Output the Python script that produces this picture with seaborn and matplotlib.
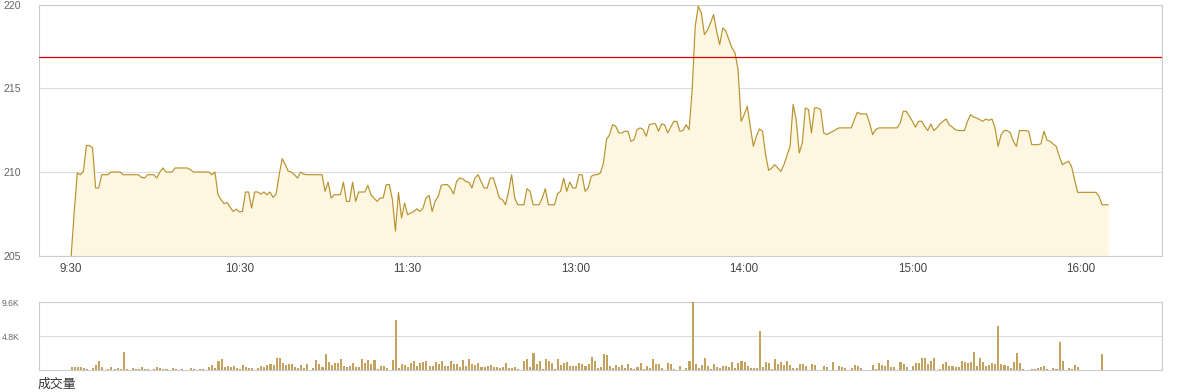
import numpy as np
import pandas as pd
import matplotlib
matplotlib.use("Agg")
import matplotlib.pyplot as plt
import seaborn as sns

# ---------------- data ----------------
price = [
    205.0, 207.6, 209.96, 209.86, 210.06, 211.6, 211.6, 211.45, 209.07, 209.07,
    209.86, 209.86, 209.86, 210.02, 210.02, 210.02, 210.02, 209.86, 209.86, 209.86,
    209.86, 209.86, 209.86, 209.7, 209.66, 209.86, 209.86, 209.86, 209.66, 210.02,
    210.26, 210.02, 210.02, 210.02, 210.26, 210.26, 210.26, 210.26, 210.26, 210.16,
    210.02, 210.02, 210.02, 210.02, 210.02, 210.02, 209.86, 210.02, 208.67, 208.37,
    208.13, 208.21, 207.91, 207.67, 207.81, 207.65, 207.67, 208.83, 208.83, 207.87,
    208.83, 208.83, 208.7, 208.83, 208.67, 208.83, 208.51, 208.7, 209.86, 210.82,
    210.46, 210.06, 210.02, 209.86, 209.66, 210.02, 209.9, 209.86, 209.86, 209.86,
    209.86, 209.86, 209.86, 208.87, 209.42, 208.47, 208.67, 208.67, 208.67, 209.42,
    208.27, 208.27, 209.42, 208.27, 208.83, 208.83, 208.83, 209.23, 208.67, 208.47,
    208.27, 208.47, 208.47, 209.27, 209.27, 208.4, 206.5, 208.8, 207.28, 208.17,
    207.48, 207.58, 207.67, 207.83, 207.67, 207.87, 208.47, 208.63, 207.67, 208.27,
    208.57, 209.23, 209.27, 209.27, 209.07, 208.71, 209.46, 209.66, 209.62, 209.46,
    209.42, 209.07, 209.66, 209.86, 209.46, 209.07, 209.07, 209.66, 209.66, 209.07,
    208.47, 208.37, 208.07, 208.87, 209.86, 208.47, 208.07, 208.07, 208.07, 209.03,
    208.87, 208.07, 208.07, 208.07, 208.47, 209.03, 208.07, 208.07, 208.07, 208.73,
    208.87, 209.66, 208.87, 209.42, 209.07, 209.07, 209.86, 209.86, 208.87, 209.07,
    209.76, 209.86, 209.86, 209.96, 210.56, 211.95, 212.25, 212.84, 212.75, 212.35,
    212.35, 212.45, 212.45, 211.85, 211.95, 212.55, 212.65, 212.55, 212.15, 212.84,
    212.9, 212.9, 212.45, 212.88, 212.84, 212.35, 212.7, 213.04, 213.04, 212.45,
    212.49, 212.84, 212.55, 214.93, 218.71, 219.9, 219.5, 218.21, 218.47, 218.9,
    219.4, 218.41, 217.61, 218.61, 218.41, 217.91, 217.42, 217.12, 216.12, 213.04,
    213.44, 213.94, 212.75, 211.55, 212.15, 212.59, 212.45, 211.06, 210.12, 210.26,
    210.46, 210.26, 210.06, 210.46, 211.0, 211.55, 214.04, 213.14, 211.15, 211.75,
    213.84, 213.74, 212.35, 213.84, 213.84, 213.74, 212.35, 212.25, 212.35, 212.45,
    212.55, 212.65, 212.65, 212.65, 212.65, 212.65, 213.14, 213.58, 213.48, 213.48,
    213.48, 212.94, 212.25, 212.55, 212.65, 212.65, 212.65, 212.65, 212.65, 212.65,
    212.65, 212.94, 213.64, 213.64, 213.34, 213.04, 212.69, 213.04, 213.04, 212.75,
    212.49, 212.88, 212.49, 212.65, 212.88, 213.04, 213.18, 212.84, 212.7, 212.55,
    212.49, 212.49, 212.49, 213.04, 213.44, 213.3, 213.24, 213.14, 213.04, 213.18,
    213.1, 213.18, 212.65, 211.55, 212.25, 212.49, 212.49, 212.35, 211.85, 211.55,
    212.49, 212.49, 212.49, 212.45, 211.65, 211.65, 211.65, 211.7, 212.45, 211.91,
    211.85, 211.69, 211.55, 210.96, 210.46, 210.56, 210.66, 210.36, 209.56, 208.81,
    208.81, 208.81, 208.81, 208.81, 208.81, 208.81, 208.57, 208.07, 208.07, 208.07,
]

volume_k = [
    0.4, 0.4, 0.4, 0.4, 0.3, 0.15, 0, 0.3, 0.7, 1.3,
    0.4, 0, 0.15, 0.4, 0.15, 0.3, 0.15, 2.5, 0.15, 0,
    0.3, 0.15, 0.15, 0.4, 0.15, 0.15, 0, 0.15, 0.4, 0.3,
    0.15, 0.15, 0, 0.3, 0.15, 0, 0.15, 0, 0, 0.3,
    0.15, 0, 0.15, 0.15, 0, 0.4, 0.7, 0.3, 1.3, 1.55,
    0.4, 0.55, 0.4, 0.55, 0.3, 0.15, 0.7, 0.4, 0.3, 0.3,
    0, 0.3, 0.55, 0.4, 0.7, 0.85, 0.7, 1.7, 1.7, 1.0,
    0.7, 0.85, 0.85, 0.4, 0.3, 0.7, 0.3, 0.85, 0, 0.3,
    1.4, 0.85, 0.4, 2.25, 1.1, 0.7, 1.0, 1.0, 1.55, 0.55,
    0.4, 0.55, 1.0, 0.4, 0.4, 1.55, 1.0, 1.4, 0.85, 1.4,
    0.15, 0.55, 0.55, 0.3, 0, 1.4, 7.05, 0.3, 0.85, 0.7,
    0.4, 1.0, 1.3, 0.55, 1.0, 1.1, 1.3, 0.55, 0.55, 1.1,
    0.85, 1.3, 0.55, 0.55, 1.3, 0.85, 0.85, 0.4, 1.4, 0.55,
    1.55, 0.85, 0.7, 1.0, 0.4, 0.4, 0.55, 0.7, 0.4, 0.4,
    0.3, 0.4, 1.0, 0.3, 0.3, 0.4, 0.15, 0, 1.3, 1.55,
    0.4, 2.4, 0.85, 1.3, 0.15, 1.55, 1.3, 1.0, 0.15, 1.55,
    0.7, 1.0, 1.1, 0.55, 0.55, 0.55, 1.0, 0.85, 0.55, 0.85,
    1.85, 1.3, 0.3, 0.4, 2.25, 2.1, 0.55, 0.3, 0.7, 0.4,
    0.7, 0.3, 0.85, 0.3, 0.15, 0.4, 1.0, 0.15, 0.55, 0.3,
    1.55, 0.85, 0.85, 0.3, 0, 1.0, 0.85, 0.15, 0, 0.55,
    0, 0.3, 1.3, 9.6, 0.85, 0.3, 0.7, 1.7, 0.55, 0.15,
    0.85, 0.4, 0.3, 0.55, 0.55, 0.4, 1.1, 0.3, 1.0, 1.3,
    1.1, 0.55, 0.3, 0.3, 0.3, 5.5, 0.4, 1.1, 1.0, 0.15,
    1.55, 0.85, 1.1, 0.7, 1.3, 0.7, 0.3, 0.3, 0.85, 0.85,
    0.55, 0, 0.85, 0.7, 0, 0, 0.55, 0.4, 0, 1.1,
    0, 0.55, 0.4, 0.3, 0, 0.3, 0.7, 0.55, 0.3, 0,
    0, 0, 0.7, 0.15, 1.0, 0.7, 0.55, 1.4, 0.4, 0.4,
    0, 1.1, 0.85, 0.4, 0, 0.55, 1.0, 1.0, 1.7, 1.7,
    0.85, 1.3, 1.7, 0, 0.15, 0.85, 1.1, 0.55, 0.55, 0.4,
    0.4, 1.3, 1.1, 1.0, 1.1, 2.5, 0.55, 1.7, 1.1, 0.55,
    0.7, 1.0, 0.85, 6.2, 0.85, 0.7, 0.55, 0.3, 1.1, 2.4,
    1.0, 0.15, 0, 0, 0.15, 0.15, 0.3, 0.4, 0.55, 0.15,
    0, 0.3, 0.15, 3.95, 1.3, 0, 0.3, 0.15, 0.7, 0.4,
    0, 0, 0, 0, 0, 0, 0, 2.25, 0, 0,
]

tick_index = [0, 55, 110, 165, 220, 275, 330]
tick_labels = ["9:30", "10:30", "11:30", "13:00", "14:00", "15:00", "16:00"]
price_ticks = [205, 210, 215, 220]
volume_ticks_k = [4.8, 9.6]
volume_tick_labels = ["4.8K", "9.6K"]
prev_close = 216.88
volume_title = "成交量"

# ---------------- styling ----------------
sns.set_theme(style="white")
plt.rcParams["font.family"] = ["Liberation Sans", "Noto Sans CJK SC", "DejaVu Sans"]

LINE = "#b8922b"
FILL = "#fdf6e1"
BAR = "#c2a25e"
GRID = "#dcdcdc"
SPINE = "#cccccc"

df = pd.DataFrame({
    "idx": np.arange(len(price)),
    "price": price,
    "vol": np.array(volume_k) * 1000.0,
})

fig = plt.figure(figsize=(11.8, 3.92), dpi=100)
ax = fig.add_axes([0.0328, 0.3462, 0.952, 0.6423])
ax2 = fig.add_axes([0.0333, 0.0561, 0.9517, 0.1727])

xlim = (-10.6, 356.6)

# price panel
ax.fill_between(df["idx"], df["price"], 205, color=FILL, lw=0, zorder=1)
sns.lineplot(data=df, x="idx", y="price", ax=ax, color=LINE, lw=0.85, zorder=3)
ax.axhline(prev_close, color="#d40000", lw=0.9, zorder=4)
ax.set_ylim(205, 220)
ax.set_xlim(*xlim)
ax.set_yticks(price_ticks)
ax.set_yticklabels([str(t) for t in price_ticks])
ax.set_xticks(tick_index)
ax.set_xticklabels(tick_labels)
ax.grid(axis="y", color=GRID, lw=0.8)
ax.grid(axis="x", visible=False)
ax.set_axisbelow(True)
ax.set_xlabel("")
ax.set_ylabel("")
ax.tick_params(axis="y", length=0, pad=25.7, labelsize=7.6, labelcolor="#666666")
ax.tick_params(axis="x", length=0, pad=5, labelsize=8.4, labelcolor="#444444")
for lbl in ax.get_yticklabels():
    lbl.set_horizontalalignment("left")
for s in ax.spines.values():
    s.set_color(SPINE)
    s.set_linewidth(0.8)

# volume panel
sns.barplot(data=df, x="idx", y="vol", ax=ax2, color=BAR, saturation=1,
            width=0.67, errorbar=None, zorder=3, linewidth=0, edgecolor="none")
for p in ax2.patches:
    p.set_antialiased(False)
ax2.set_xlim(*xlim)
ax2.set_ylim(0, 9600)
ax2.set_xticks([])
ax2.set_yticks([v * 1000 for v in volume_ticks_k])
ax2.set_yticklabels(volume_tick_labels)
ax2.grid(axis="y", color=GRID, lw=0.8)
ax2.grid(axis="x", visible=False)
ax2.set_axisbelow(True)
ax2.set_xlabel("")
ax2.set_ylabel("")
ax2.tick_params(axis="y", length=0, pad=26.9, labelsize=6.2, labelcolor="#666666")
for lbl in ax2.get_yticklabels():
    lbl.set_horizontalalignment("left")
for s in ax2.spines.values():
    s.set_color(SPINE)
    s.set_linewidth(0.8)

fig.text(0.0316, 8 / 392, volume_title, fontsize=9.3, color="#333333",
         family=["Noto Sans CJK SC", "DejaVu Sans"], va="center", ha="left")

fig.savefig("out.png", dpi=100)
